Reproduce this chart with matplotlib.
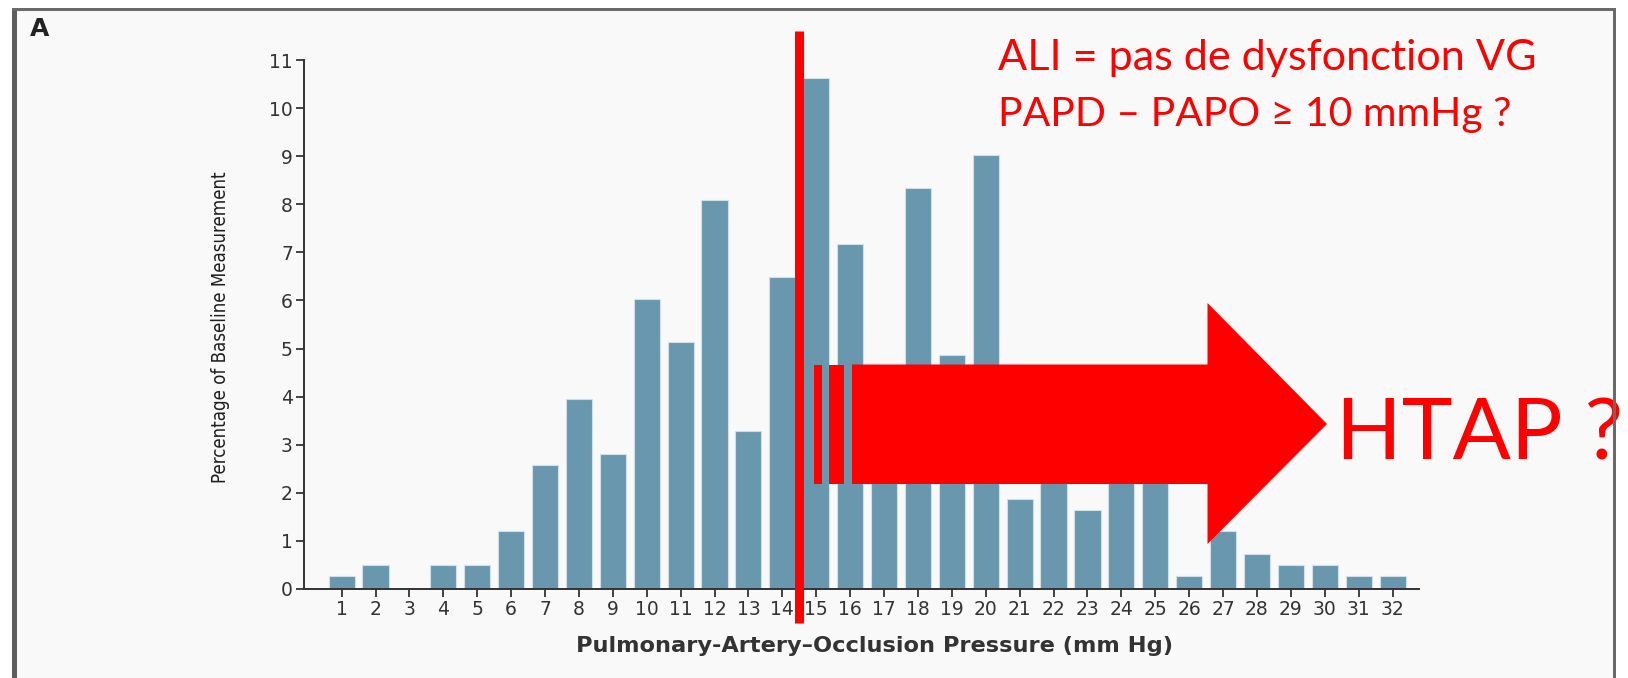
import matplotlib
matplotlib.use("Agg")
import matplotlib.pyplot as plt
from matplotlib.patches import Polygon, Rectangle

# Pulmonary-artery occlusion pressure (mm Hg) and share of baseline measurements (%)
pressure = list(range(1, 33))
percentage = [0.26, 0.50, 0.0, 0.50, 0.50, 1.21, 2.58, 3.95, 2.81, 6.03,
              5.14, 8.08, 3.28, 6.49, 10.62, 7.17, 3.40, 8.33, 4.86, 9.02,
              1.88, 2.90, 1.64, 2.70, 2.50, 0.26, 1.20, 0.73, 0.50, 0.50,
              0.26, 0.26]
y_ticks = list(range(0, 12))
threshold = 14.5

W, H = 1628, 678
fig = plt.figure(figsize=(W / 100, H / 100), dpi=100, facecolor="white")
renderer = fig.canvas.get_renderer()


def px(x, y):
    """Pixel position (origin top-left) to figure fraction."""
    return x / W, 1 - y / H


def fit(text, length, vertical=False):
    """Scale a text's font size so its extent matches the given pixel length."""
    for _ in range(3):
        bb = text.get_window_extent(renderer)
        cur = bb.height if vertical else bb.width
        text.set_fontsize(text.get_fontsize() * length / cur)


# panel background
fig.patches.append(Rectangle(px(14, H + 5), (1614 - 14) / W, (H + 5 - 9) / H,
                             transform=fig.transFigure, facecolor="#f9f9f9",
                             edgecolor="none", zorder=-10))

bar_color = "#6897ae"
text_dark = "#333333"

ax = fig.add_axes([304 / W, 89 / H, (1419 - 304) / W, (589 - 60) / H])
ax.set_facecolor("none")
ax.bar(pressure, percentage, width=0.77, color=bar_color,
       edgecolor="#cfe0ea", linewidth=0.8, zorder=2)
ax.set_xlim(-0.11, 32.78)
ax.set_ylim(0, 11)
ax.set_xticks(pressure)
ax.set_yticks(y_ticks)
for s in ("top", "right"):
    ax.spines[s].set_visible(False)
for s in ("left", "bottom"):
    ax.spines[s].set_color(text_dark)
    ax.spines[s].set_linewidth(1.4)
ax.tick_params(axis="both", direction="out", length=6, width=1.3,
               color=text_dark, labelcolor=text_dark, labelsize=13.5, pad=2)
for lab in ax.get_xticklabels() + ax.get_yticklabels():
    lab.set_family("DejaVu Sans")

# threshold line between 14 and 15 mm Hg
ax.plot([threshold, threshold], [-0.71, 11.6], color="#ff0000", lw=6.5,
        solid_capstyle="butt", clip_on=False, zorder=5)

ylab = fig.text(*px(221, 327), "Percentage of Baseline Measurement",
                rotation=90, ha="center", va="center", fontsize=15,
                color="#1e1e1e", family="DejaVu Sans", fontstretch="condensed")
fit(ylab, 312, vertical=True)
xlab = fig.text(*px(874, 646), "Pulmonary-Artery\u2013Occlusion Pressure (mm Hg)",
                ha="center", va="center", fontsize=15, fontweight="bold",
                color=text_dark, family="DejaVu Sans")
fit(xlab, 594)
fig.text(*px(30, 36), "A", ha="left", va="baseline", fontsize=18,
         fontweight="bold", color="#222222", family="DejaVu Sans")

# striped block arrow
red = "#ff0000"
arrow_pts = [(852, 364.5), (1207.5, 364.5), (1207.5, 303), (1327, 424),
             (1207.5, 544), (1207.5, 484), (852, 484)]
fig.patches.append(Polygon([px(x, y) for x, y in arrow_pts], closed=True,
                           transform=fig.transFigure, facecolor=red,
                           edgecolor="none", zorder=10))
for x0, x1 in [(814, 822), (829, 844)]:
    fig.patches.append(Rectangle(px(x0, 484), (x1 - x0) / W, (484 - 364.5) / H,
                                 transform=fig.transFigure, facecolor=red,
                                 edgecolor="none", zorder=10))

t1 = fig.text(*px(998, 70), "ALI = pas de dysfonction VG", ha="left",
              va="baseline", fontsize=30, color=red, family="Lato", zorder=11)
fit(t1, 538)
t2 = fig.text(*px(998, 126), "PAPD \u2013 PAPO \u2265 10 mmHg ?", ha="left",
              va="baseline", fontsize=30, color=red, family="Lato", zorder=11)
fit(t2, 513)
t3 = fig.text(*px(1336, 460), "HTAP ?", ha="left", va="baseline", fontsize=62,
              color=red, family="Lato", zorder=11)
fit(t3, 287)

# frame lines drawn above the annotations
fig.patches.append(Rectangle(px(12, H + 5), 5 / W, (H + 5 - 8) / H,
                             transform=fig.transFigure, facecolor="#5e5e5e",
                             edgecolor="none", zorder=20))
fig.patches.append(Rectangle(px(12, 11), (1616 - 12) / W, 3 / H,
                             transform=fig.transFigure, facecolor="#6a6a6a",
                             edgecolor="none", zorder=20))
fig.patches.append(Rectangle(px(1613, H + 5), 3 / W, (H + 5 - 8) / H,
                             transform=fig.transFigure, facecolor="#6a6a6a",
                             edgecolor="none", zorder=20))

fig.savefig("out.png", dpi=100, facecolor="white")
